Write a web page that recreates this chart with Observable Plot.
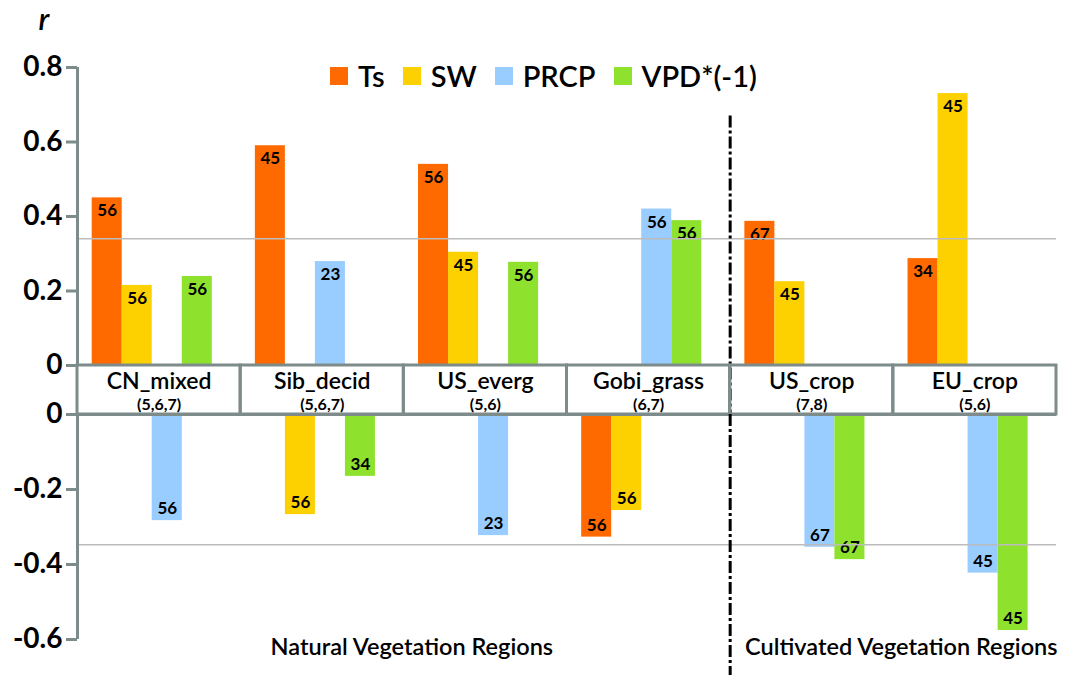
<!DOCTYPE html>
<html>
<head>
<meta charset="utf-8">
<script src="https://cdn.jsdelivr.net/npm/d3@7"></script>
<script src="https://cdn.jsdelivr.net/npm/@observablehq/plot@0.6"></script>
<style>
  html, body { margin: 0; padding: 0; background: #fff; overflow: hidden; }
  #chart { position: relative; width: 1065px; height: 675px; font-family: Lato, "Open Sans", sans-serif; }
  #chart svg { position: absolute; left: 0; overflow: visible; background: transparent; }
  #legend { position: absolute; top: 58px; left: 330px; display: flex; align-items: center; font-family: Lato, sans-serif; font-size: 29px; font-weight: 600; color: #000; }
  #legend .item { display: flex; align-items: center; margin-right: 18px; }
  #legend .sw { width: 18px; height: 18px; margin-right: 10px; }
</style>
</head>
<body>
<div id="chart"><div id="legend"></div></div>
<script>
// ---- data ----
const regions = ["CN_mixed", "Sib_decid", "US_everg", "Gobi_grass", "US_crop", "EU_crop"];
const regionMonths = ["(5,6,7)", "(5,6,7)", "(5,6)", "(6,7)", "(7,8)", "(5,6)"];
const variables = ["Ts", "SW", "PRCP", "VPD*(-1)"];
const colors = ["#FF6A00", "#FDD000", "#99CCFF", "#8EE22E"];

const tsR   = [0.45, 0.59, 0.54, -0.327, 0.387, 0.287];
const tsLag = ["56", "45", "56", "56", "67", "34"];
const swR   = [0.215, -0.267, 0.304, -0.256, 0.225, 0.73];
const swLag = ["56", "56", "45", "56", "45", "45"];
const prcpR   = [-0.283, 0.279, -0.323, 0.42, -0.354, -0.423];
const prcpLag = ["56", "23", "23", "56", "67", "45"];
const vpdR   = [0.239, -0.165, 0.277, 0.389, -0.387, -0.576];
const vpdLag = ["56", "34", "56", "56", "67", "45"];

const sigPos = 0.34;
const sigNeg = -0.347;
const posTicks = [0, 0.2, 0.4, 0.6, 0.8];
const negTicks = [0, -0.2, -0.4, -0.6];
const groupLabels = ["Natural Vegetation Regions", "Cultivated Vegetation Regions"];
const groupMembers = [[0, 1, 2, 3], [4, 5]];
const dividerAfter = 3; // dash-dot line between Gobi_grass and US_crop

// ---- table ----
const series = [tsR, swR, prcpR, vpdR];
const lags = [tsLag, swLag, prcpLag, vpdLag];
const BW = 0.184, OFF = -0.41;
const rows = regions.flatMap((region, i) => variables.map((variable, j) => ({
  region, variable, i, j, r: series[j][i], lag: lags[j][i],
  x1: i + OFF + j * BW, x2: i + OFF + (j + 1) * BW
})));
const posRows = rows.filter(d => d.r > 0);
const negRows = rows.filter(d => d.r < 0);

const gray = "#7d8b8b";
const font = "Lato, 'Open Sans', sans-serif";
const W = 1065, ML = 77, MR = 9;
const xDomain = [-0.5, regions.length - 0.5];
const fmt = d => d === 0 ? "0" : d.toFixed(1);
const colorScale = {domain: variables, range: colors};

const chartEl = document.getElementById("chart");

// top panel
const topPlot = Plot.plot({
  width: W, height: 414, marginTop: 67, marginBottom: 49, marginLeft: ML, marginRight: MR,
  x: {domain: xDomain, axis: null},
  y: {domain: [0, 0.8], axis: null},
  color: colorScale,
  style: {fontFamily: font, background: "transparent", overflow: "visible"},
  marks: [
    Plot.rectY(posRows, {x1: "x1", x2: "x2", y: "r", fill: "variable"}),
    Plot.text(posRows, {x: d => (d.x1 + d.x2) / 2, y: "r", text: "lag", dy: 13, fontSize: 17, fontWeight: "bold", fill: "black"}),
    Plot.ruleY([sigPos], {x1: xDomain[0], x2: xDomain[1], stroke: "#bcbcbc", strokeWidth: 1.5}),
    Plot.ruleX([xDomain[0]], {y1: 0, y2: 0.8, stroke: gray, strokeWidth: 3}),
    Plot.axisY(posTicks, {label: null, tickSize: 11, tickPadding: 4, stroke: gray, strokeWidth: 3, fill: "black",
      fontSize: 28, fontWeight: 700, tickFormat: fmt}),
    Plot.ruleX([dividerAfter + 0.5], {y1: 0.67, y2: 0, insetBottom: -49, stroke: "black", strokeWidth: 3, strokeDasharray: "12,3,3,3"}),
    Plot.text(["r"], {frameAnchor: "top-left", lineAnchor: "middle", dx: -39, dy: -47, fontSize: 31, fontStyle: "italic", fontWeight: 600, fill: "black"})
  ]
});
topPlot.style.top = "0px";
chartEl.appendChild(topPlot);

// label band
const bandPlot = Plot.plot({
  width: W, height: 70, marginTop: 10, marginBottom: 11, marginLeft: ML, marginRight: MR,
  x: {domain: xDomain, axis: null},
  y: {domain: [0, 1], axis: null},
  style: {fontFamily: font, background: "transparent", overflow: "visible"},
  marks: [
    Plot.rect(regions, {x1: (d, i) => i - 0.5, x2: (d, i) => i + 0.5, y1: 0, y2: 1, stroke: gray, strokeWidth: 3, fill: "none"}),
    Plot.text(regions, {x: (d, i) => i, frameAnchor: "top", lineAnchor: "middle", dy: 16, fontSize: 23, fontWeight: 600, fill: "black"}),
    Plot.text(regionMonths, {x: (d, i) => i, frameAnchor: "bottom", lineAnchor: "middle", dy: -10, fontSize: 16, fontWeight: 700, fill: "black"})
  ]
});
bandPlot.style.top = "355px";
chartEl.appendChild(bandPlot);

// bottom panel
const bottomPlot = Plot.plot({
  width: W, height: 295, marginTop: 34, marginBottom: 36, marginLeft: ML, marginRight: MR,
  x: {domain: xDomain, axis: null},
  y: {domain: [-0.6, 0], axis: null},
  color: colorScale,
  style: {fontFamily: font, background: "transparent", overflow: "visible"},
  marks: [
    Plot.rectY(negRows, {x1: "x1", x2: "x2", y: "r", fill: "variable"}),
    Plot.text(negRows, {x: d => (d.x1 + d.x2) / 2, y: "r", text: "lag", dy: -12, fontSize: 17, fontWeight: "bold", fill: "black"}),
    Plot.ruleY([sigNeg], {x1: xDomain[0], x2: xDomain[1], stroke: "#bcbcbc", strokeWidth: 1.5}),
    Plot.ruleY([0], {x1: xDomain[0], x2: xDomain[1], stroke: gray, strokeWidth: 3}),
    Plot.ruleX([xDomain[0]], {y1: 0, y2: -0.6, stroke: gray, strokeWidth: 3}),
    Plot.axisY(negTicks, {label: null, tickSize: 11, tickPadding: 4, stroke: gray, strokeWidth: 3, fill: "black",
      fontSize: 28, fontWeight: 700, tickFormat: fmt}),
    Plot.ruleX([dividerAfter + 0.5], {y1: 0, y2: -0.6, insetBottom: -40, stroke: "black", strokeWidth: 3, strokeDasharray: "12,3,3,3"}),
    Plot.text(groupLabels, {x: (d, k) => d3.mean(groupMembers[k]), frameAnchor: "bottom", lineAnchor: "middle", dy: 8, dx: 8,
      fontSize: 23.5, fontWeight: 600, fill: "black"})
  ]
});
bottomPlot.style.top = "380px";
chartEl.appendChild(bottomPlot);

// legend
const legendEl = document.getElementById("legend");
variables.forEach((v, k) => {
  const item = document.createElement("div");
  item.className = "item";
  const sw = document.createElement("span");
  sw.className = "sw";
  sw.style.background = colors[k];
  const label = document.createElement("span");
  label.textContent = v;
  item.appendChild(sw);
  item.appendChild(label);
  legendEl.appendChild(item);
});
</script>
</body>
</html>
